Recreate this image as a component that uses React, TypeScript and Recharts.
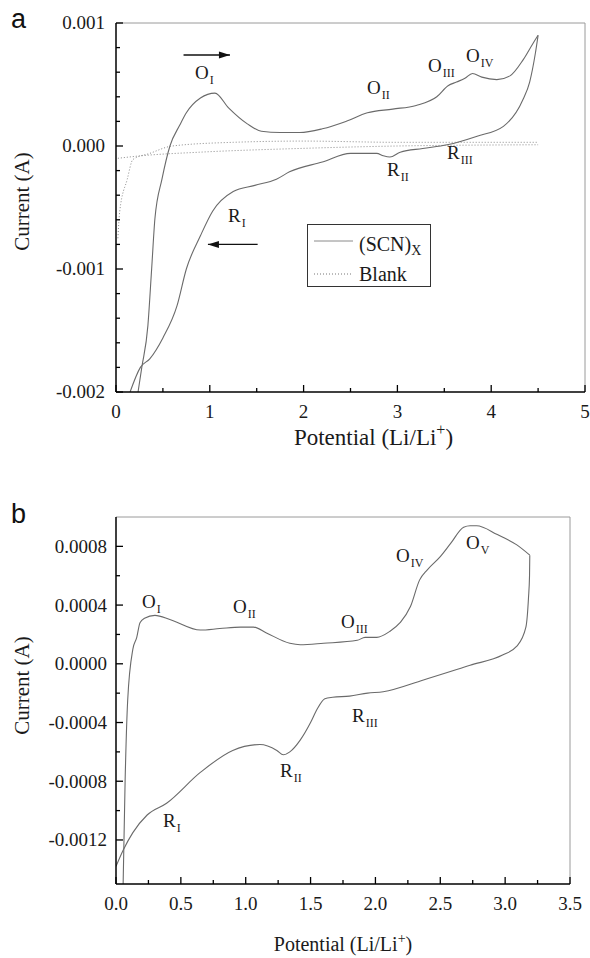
import React from 'react';
import { ComposedChart, Line, Scatter, XAxis, YAxis, ReferenceLine, Legend } from 'recharts';

type P = { x: number; y: number };
type Ann = { x: number; y: number; main: string; sub: string };

// ---------- Panel a ----------
const scnForwardA: P[] = [
  { x: 0.235, y: -0.002 }, { x: 0.275, y: -0.0018 }, { x: 0.34, y: -0.00146 }, { x: 0.38, y: -0.001 },
  { x: 0.415, y: -0.00059 }, { x: 0.49, y: -0.00027 }, { x: 0.575, y: 0.0 }, { x: 0.68, y: 0.00017 },
  { x: 0.75, y: 0.00027 }, { x: 0.9, y: 0.00039 }, { x: 1.055, y: 0.00043 }, { x: 1.2, y: 0.00031 },
  { x: 1.4, y: 0.00018 }, { x: 1.55, y: 0.00012 }, { x: 1.75, y: 0.00011 }, { x: 1.96, y: 0.00011 },
  { x: 2.2, y: 0.00014 }, { x: 2.45, y: 0.0002 }, { x: 2.68, y: 0.00027 }, { x: 2.95, y: 0.0003 },
  { x: 3.2, y: 0.00033 }, { x: 3.42, y: 0.0004 }, { x: 3.54, y: 0.00049 }, { x: 3.63, y: 0.00052 },
  { x: 3.72, y: 0.00055 }, { x: 3.8, y: 0.00059 }, { x: 3.9, y: 0.00056 }, { x: 4.06, y: 0.00054 },
  { x: 4.2, y: 0.00057 }, { x: 4.34, y: 0.0007 }, { x: 4.45, y: 0.00084 }, { x: 4.5, y: 0.0009 },
];
const scnReverseA: P[] = [
  { x: 4.5, y: 0.0009 }, { x: 4.47, y: 0.00075 }, { x: 4.41, y: 0.00052 }, { x: 4.34, y: 0.00038 },
  { x: 4.13, y: 0.00016 }, { x: 3.85, y: 0.00008 }, { x: 3.53, y: 0.00001 }, { x: 3.27, y: -0.00002 },
  { x: 3.03, y: -0.00005 }, { x: 2.92, y: -0.00009 }, { x: 2.85, y: -0.00008 }, { x: 2.78, y: -0.00006 },
  { x: 2.5, y: -0.00006 }, { x: 2.2, y: -0.00013 }, { x: 1.85, y: -0.00021 }, { x: 1.71, y: -0.00027 },
  { x: 1.48, y: -0.00032 }, { x: 1.25, y: -0.00037 }, { x: 1.03, y: -0.00053 }, { x: 0.9, y: -0.00073 },
  { x: 0.75, y: -0.001 }, { x: 0.65, y: -0.0013 }, { x: 0.5, y: -0.00156 }, { x: 0.36, y: -0.00173 },
  { x: 0.26, y: -0.0018 }, { x: 0.15, y: -0.002 },
];
const blankUpperA: P[] = [
  { x: 0.02, y: -0.00075 }, { x: 0.04, y: -0.00053 }, { x: 0.12, y: -0.00027 }, { x: 0.18, y: -0.00011 },
  { x: 0.36, y: -0.00006 }, { x: 0.6, y: 0.0 }, { x: 1.25, y: 0.00003 }, { x: 2, y: 0.00004 },
  { x: 3, y: 0.00003 }, { x: 4.5, y: 0.00003 },
];
const blankLowerA: P[] = [
  { x: 0.02, y: -0.0001 }, { x: 0.26, y: -0.00008 }, { x: 0.9, y: -0.00005 }, { x: 1.96, y: -0.00002 },
  { x: 3, y: 0.0 }, { x: 4.5, y: 0.00001 },
];
const annA: Ann[] = [
  { x: 0.842, y: 0.000543, main: 'O', sub: 'I' },
  { x: 2.676, y: 0.000421, main: 'O', sub: 'II' },
  { x: 3.326, y: 0.000599, main: 'O', sub: 'III' },
  { x: 3.731, y: 0.00068, main: 'O', sub: 'IV' },
  { x: 1.194, y: -0.000615, main: 'R', sub: 'I' },
  { x: 2.889, y: -0.000243, main: 'R', sub: 'II' },
  { x: 3.529, y: -0.000105, main: 'R', sub: 'III' },
];
const arrowRightA: P[] = [{ x: 0.72, y: 0.00074 }, { x: 1.215, y: 0.00074 }];
const arrowLeftA: P[] = [{ x: 1.51, y: -0.0008 }, { x: 0.98, y: -0.0008 }];

const xTicksA = [0, 0.5, 1, 1.5, 2, 2.5, 3, 3.5, 4, 4.5, 5];
const xMajorA = [0, 1, 2, 3, 4, 5];
const xLabelsA = ['0', '1', '2', '3', '4', '5'];
const yTicksA = [-0.002, -0.0018, -0.0016, -0.0014, -0.0012, -0.001, -0.0008, -0.0006, -0.0004, -0.0002, 0, 0.0002, 0.0004, 0.0006, 0.0008, 0.001];
const yMajorA = [-0.002, -0.001, 0, 0.001];
const yLabelsA = ['-0.002', '-0.001', '0.000', '0.001'];

const legendItems = [
  { name: '(SCN)', sub: 'X', dash: undefined as string | undefined },
  { name: 'Blank', sub: '', dash: '1 2' },
];

// ---------- Panel b ----------
const scnForwardB: P[] = [
  { x: 0.055, y: -0.0015 }, { x: 0.07, y: -0.00081 }, { x: 0.09, y: -0.00025 }, { x: 0.13, y: 0.0001 },
  { x: 0.16, y: 0.00018 }, { x: 0.185, y: 0.00028 }, { x: 0.22, y: 0.00031 }, { x: 0.3, y: 0.00033 },
  { x: 0.42, y: 0.0003 }, { x: 0.65, y: 0.00023 }, { x: 0.8, y: 0.00024 }, { x: 0.96, y: 0.00025 },
  { x: 1.06, y: 0.00025 }, { x: 1.16, y: 0.00021 }, { x: 1.34, y: 0.00014 }, { x: 1.42, y: 0.00013 },
  { x: 1.6, y: 0.00014 }, { x: 1.86, y: 0.00016 }, { x: 1.92, y: 0.00018 }, { x: 2.01, y: 0.00018 },
  { x: 2.11, y: 0.00022 }, { x: 2.19, y: 0.00028 }, { x: 2.27, y: 0.00039 }, { x: 2.34, y: 0.00057 },
  { x: 2.4, y: 0.00064 }, { x: 2.5, y: 0.00073 }, { x: 2.58, y: 0.00082 }, { x: 2.68, y: 0.00093 },
  { x: 2.73, y: 0.00094 }, { x: 2.78, y: 0.00094 }, { x: 2.94, y: 0.00088 }, { x: 3.09, y: 0.00081 },
  { x: 3.19, y: 0.00074 },
];
const scnReverseB: P[] = [
  { x: 3.19, y: 0.00074 }, { x: 3.188, y: 0.0006 }, { x: 3.18, y: 0.00045 }, { x: 3.16, y: 0.00025 },
  { x: 3.09, y: 0.00012 }, { x: 2.98, y: 0.00006 }, { x: 2.73, y: -0.00001 }, { x: 2.37, y: -0.00011 },
  { x: 2.06, y: -0.00019 }, { x: 1.94, y: -0.0002 }, { x: 1.8, y: -0.00022 }, { x: 1.67, y: -0.000228 },
  { x: 1.61, y: -0.000238 }, { x: 1.55, y: -0.00031 }, { x: 1.5, y: -0.0004 }, { x: 1.42, y: -0.00052 },
  { x: 1.34, y: -0.0006 }, { x: 1.29, y: -0.00062 }, { x: 1.24, y: -0.00059 }, { x: 1.11, y: -0.00055 },
  { x: 0.9, y: -0.00059 }, { x: 0.65, y: -0.00074 }, { x: 0.39, y: -0.00095 }, { x: 0.24, y: -0.00103 },
  { x: 0.13, y: -0.00115 }, { x: 0.055, y: -0.00127 }, { x: 0.0, y: -0.00138 },
];
const annB: Ann[] = [
  { x: 0.2, y: 0.000381, main: 'O', sub: 'I' },
  { x: 0.902, y: 0.000347, main: 'O', sub: 'II' },
  { x: 1.735, y: 0.000245, main: 'O', sub: 'III' },
  { x: 2.159, y: 0.000695, main: 'O', sub: 'IV' },
  { x: 2.699, y: 0.000783, main: 'O', sub: 'V' },
  { x: 0.362, y: -0.00111, main: 'R', sub: 'I' },
  { x: 1.264, y: -0.00077, main: 'R', sub: 'II' },
  { x: 1.82, y: -0.000395, main: 'R', sub: 'III' },
];
const xTicksB = [0, 0.25, 0.5, 0.75, 1, 1.25, 1.5, 1.75, 2, 2.25, 2.5, 2.75, 3, 3.25, 3.5];
const xMajorB = [0, 0.5, 1, 1.5, 2, 2.5, 3, 3.5];
const xLabelsB = ['0.0', '0.5', '1.0', '1.5', '2.0', '2.5', '3.0', '3.5'];
const yTicksB = [-0.0012, -0.001, -0.0008, -0.0006, -0.0004, -0.0002, 0, 0.0002, 0.0004, 0.0006, 0.0008];
const yMajorB = [-0.0012, -0.0008, -0.0004, 0, 0.0004, 0.0008];
const yLabelsB = ['-0.0012', '-0.0008', '-0.0004', '0.0000', '0.0004', '0.0008'];

const SERIF = '"Liberation Serif", "Times New Roman", serif';
const SANS = '"Liberation Sans", Arial, sans-serif';
const CURVE = '#6a6a6a';
const TXT = '#1a1a1a';
const serifStyle = { fontFamily: SERIF };

const findIdx = (vals: number[], v: number) => vals.findIndex((m) => Math.abs(m - v) < 1e-9);

const makeYTick = (majors: number[], labels: string[], gap: number, fs: number) => (p: any) => {
  const idx = findIdx(majors, p.payload.value);
  const major = idx >= 0;
  return (
    <g>
      <line x1={p.x} x2={p.x + (major ? 7 : 4)} y1={p.y} y2={p.y} stroke="#000" strokeWidth={1.3} />
      {major && (
        <text x={p.x - gap} y={p.y} dy="0.34em" textAnchor="end" fontFamily={SERIF} style={serifStyle} fontSize={fs} fill={TXT}>
          {labels[idx]}
        </text>
      )}
    </g>
  );
};

const makeXTick = (majors: number[], labels: string[], dy: number, fs: number) => (p: any) => {
  const idx = findIdx(majors, p.payload.value);
  const major = idx >= 0;
  return (
    <g>
      <line x1={p.x} x2={p.x} y1={p.y} y2={p.y - (major ? 7 : 4)} stroke="#000" strokeWidth={1.3} />
      {major && (
        <text x={p.x} y={p.y + dy} textAnchor="middle" fontFamily={SERIF} style={serifStyle} fontSize={fs} fill={TXT}>
          {labels[idx]}
        </text>
      )}
    </g>
  );
};

const makeAnn = (fs: number, sfs: number) => (p: any) => {
  const { cx, cy, payload } = p;
  return (
    <text x={cx} y={cy} fontFamily={SERIF} style={serifStyle} fontSize={fs} fill={TXT}>
      {payload.main}
      <tspan fontSize={sfs} dy={5} dx={1}>{payload.sub}</tspan>
    </text>
  );
};

const makeArrowDot = (data: P[]) => (p: any) => {
  if (p.index !== data.length - 1) return <g key={`d${p.index}`} />;
  const dir = data[data.length - 1].x > data[0].x ? 1 : -1;
  const { cx, cy } = p;
  return (
    <polygon
      key={`d${p.index}`}
      points={`${cx},${cy} ${cx - dir * 11},${cy - 3.5} ${cx - dir * 11},${cy + 3.5}`}
      fill="#111"
    />
  );
};

const makeYTitle = (dx: number, dyc: number, fs: number) => (p: any) => {
  const vb = p.viewBox;
  const X = vb.x + vb.width + dx;
  const Y = vb.y + vb.height / 2 + dyc;
  return (
    <text x={X} y={Y} transform={`rotate(-90 ${X} ${Y})`} textAnchor="middle" fontFamily={SERIF} style={serifStyle} fontSize={fs} fill={TXT}>
      Current (A)
    </text>
  );
};

const makeXTitle = (dxc: number, dy: number, fs: number) => (p: any) => {
  const vb = p.viewBox;
  const X = vb.x + vb.width / 2 + dxc;
  const Y = vb.y + dy;
  return (
    <text x={X} y={Y} textAnchor="middle" fontFamily={SERIF} style={serifStyle} fontSize={fs} fill={TXT}>
      Potential (Li/Li
      <tspan fontSize={fs * 0.7} dy={-fs * 0.42}>+</tspan>
      <tspan dy={fs * 0.42}>)</tspan>
    </text>
  );
};

const legendContent = () => (
  <svg width={125} height={64} style={{ display: 'block' }}>
    <rect x={0.5} y={0.5} width={123} height={62} fill="#fff" stroke="#333" strokeWidth={1} />
    {legendItems.map((it, i) => (
      <g key={it.name}>
        <line x1={7} x2={46} y1={17 + i * 33} y2={17 + i * 33} stroke={i === 0 ? '#8a8a8a' : '#777'} strokeWidth={1} strokeDasharray={it.dash} />
        <text x={52} y={27 + i * 30} fontFamily={SERIF} style={serifStyle} fontSize={20} fill={TXT}>
          {it.name}
          {it.sub && <tspan fontSize={14} dy={4}>{it.sub}</tspan>}
        </text>
      </g>
    ))}
  </svg>
);

export default function App() {
  return (
    <div style={{ position: 'absolute', left: 0, top: 0, width: 590, height: 958, background: '#fff' }}>
      <div style={{ position: 'absolute', left: 11, top: 4, fontFamily: SANS, fontSize: 27, color: '#111' }}>a</div>
      <div style={{ position: 'absolute', left: 11, top: 499, fontFamily: SANS, fontSize: 27, color: '#111' }}>b</div>

      <div style={{ position: 'absolute', left: 0, top: 0 }}>
        <ComposedChart width={590} height={460} margin={{ top: 23, right: 5, bottom: 67, left: 115 }}>
          <XAxis
            type="number"
            dataKey="x"
            domain={[0, 5]}
            ticks={xTicksA}
            interval={0}
            allowDataOverflow
            height={1}
            tickSize={0}
            tickMargin={0}
            tickLine={false}
            axisLine={{ stroke: '#000', strokeWidth: 1.5 }}
            tick={makeXTick(xMajorA, xLabelsA, 26, 19)}
            label={{ content: makeXTitle(23, 53, 23) }}
          />
          <YAxis
            type="number"
            domain={[-0.002, 0.001]}
            ticks={yTicksA}
            interval={0}
            allowDataOverflow
            width={1}
            tickSize={0}
            tickMargin={0}
            tickLine={false}
            axisLine={{ stroke: '#000', strokeWidth: 1.5 }}
            tick={makeYTick(yMajorA, yLabelsA, 11, 19)}
            label={{ content: makeYTitle(-87, -6, 21) }}
          />
          <ReferenceLine y={0.001} stroke="#9a9a9a" strokeWidth={1} />
          <ReferenceLine x={5} stroke="#9a9a9a" strokeWidth={1} />
          <Line data={blankUpperA} dataKey="y" type="monotone" stroke="#8a8a8a" strokeWidth={1} strokeDasharray="1 2" dot={false} isAnimationActive={false} />
          <Line data={blankLowerA} dataKey="y" type="monotone" stroke="#8a8a8a" strokeWidth={1} strokeDasharray="1 2" dot={false} isAnimationActive={false} />
          <Line data={scnForwardA} dataKey="y" type="monotone" stroke={CURVE} strokeWidth={1.1} dot={false} isAnimationActive={false} />
          <Line data={[...scnReverseA].reverse()} dataKey="y" type="monotone" stroke={CURVE} strokeWidth={1.1} dot={false} isAnimationActive={false} />
          <Line data={arrowRightA} dataKey="y" type="linear" stroke="#111" strokeWidth={1.3} dot={makeArrowDot(arrowRightA)} isAnimationActive={false} />
          <Line data={arrowLeftA} dataKey="y" type="linear" stroke="#111" strokeWidth={1.3} dot={makeArrowDot(arrowLeftA)} isAnimationActive={false} />
          <Scatter data={annA} dataKey="y" shape={makeAnn(19, 12)} isAnimationActive={false} />
          <Legend
            layout="horizontal"
            verticalAlign="middle"
            align="center"
            content={legendContent}
            wrapperStyle={{ position: 'absolute', left: 307, top: 224, width: 125, height: 64 }}
          />
        </ComposedChart>
      </div>

      <div style={{ position: 'absolute', left: 0, top: 478 }}>
        <ComposedChart width={590} height={480} margin={{ top: 39, right: 20, bottom: 73, left: 115 }}>
          <XAxis
            type="number"
            dataKey="x"
            domain={[0, 3.5]}
            ticks={xTicksB}
            interval={0}
            allowDataOverflow
            height={1}
            tickSize={0}
            tickMargin={0}
            tickLine={false}
            axisLine={{ stroke: '#000', strokeWidth: 1.5 }}
            tick={makeXTick(xMajorB, xLabelsB, 26, 19)}
            label={{ content: makeXTitle(0, 67, 20) }}
          />
          <YAxis
            type="number"
            domain={[-0.0015, 0.001]}
            ticks={yTicksB}
            interval={0}
            allowDataOverflow
            width={1}
            tickSize={0}
            tickMargin={0}
            tickLine={false}
            axisLine={{ stroke: '#000', strokeWidth: 1.5 }}
            tick={makeYTick(yMajorB, yLabelsB, 9, 19)}
            label={{ content: makeYTitle(-87, -15, 21) }}
          />
          <ReferenceLine y={0.001} stroke="#9a9a9a" strokeWidth={1} />
          <ReferenceLine x={3.5} stroke="#9a9a9a" strokeWidth={1} />
          <Line data={scnForwardB} dataKey="y" type="monotone" stroke={CURVE} strokeWidth={1.1} dot={false} isAnimationActive={false} />
          <Line data={[...scnReverseB].reverse()} dataKey="y" type="monotone" stroke={CURVE} strokeWidth={1.1} dot={false} isAnimationActive={false} />
          <Scatter data={annB} dataKey="y" shape={makeAnn(19, 12)} isAnimationActive={false} />
        </ComposedChart>
      </div>
    </div>
  );
}
